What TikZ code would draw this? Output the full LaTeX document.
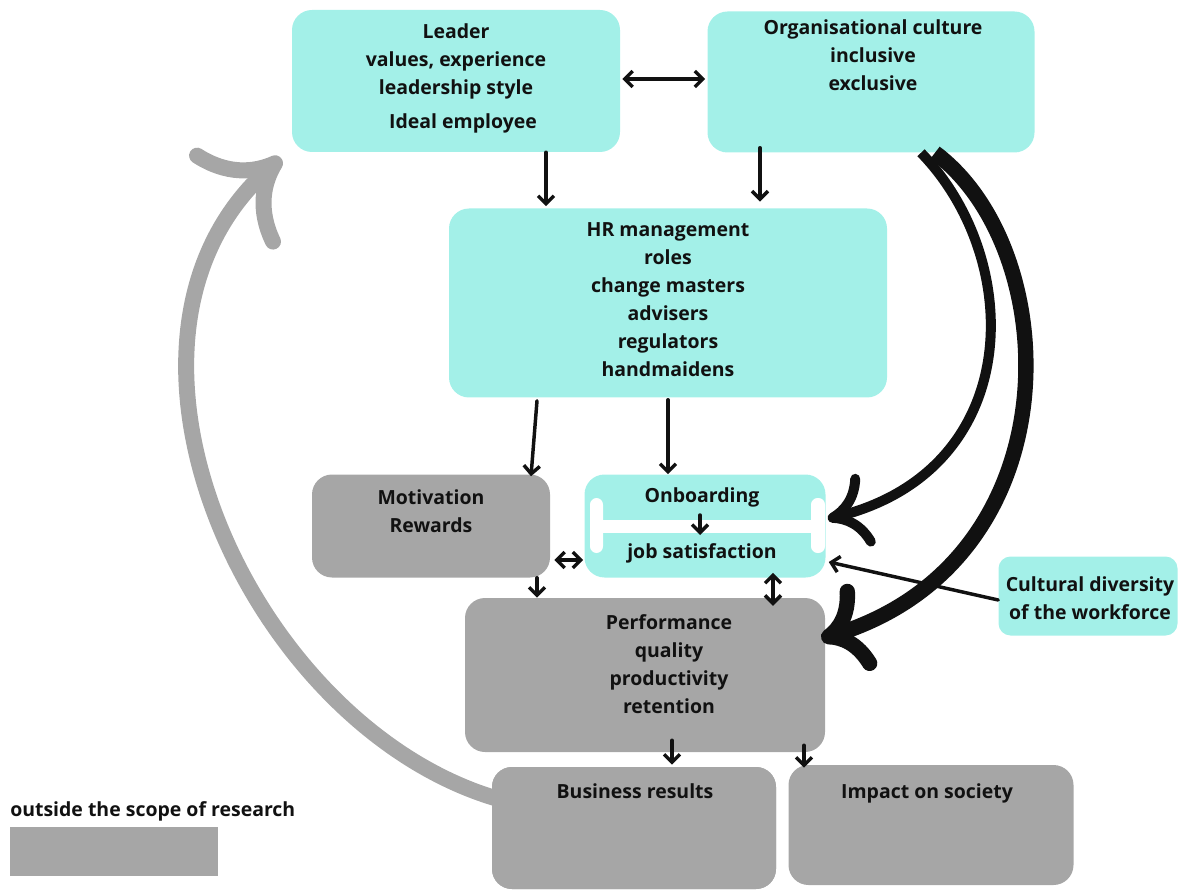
\documentclass[tikz,border=0pt]{standalone}
\usepackage{fontspec}
\setmainfont{Open Sans}
\usetikzlibrary{arrows.meta,calc}
\definecolor{cyanbox}{HTML}{A3F0E8}
\definecolor{greybox}{HTML}{A6A6A6}
\definecolor{ink}{HTML}{111111}
\begin{document}
\begin{tikzpicture}[x=0.75pt,y=-0.75pt,
  box/.style={rounded corners=15pt, inner sep=0pt, draw=none},
  cbox/.style={box, fill=cyanbox},
  gbox/.style={box, fill=greybox},
  txt/.style={font=\bfseries\fontsize{14.6}{21}\selectfont, align=center, text=ink, inner sep=0pt},
  arr/.style={draw=ink, -{Straight Barb[length=6pt,width=12pt]}, line width=2.6pt, line cap=round, line join=round},
  darr/.style={draw=ink, {Straight Barb[length=6pt,width=12pt]}-{Straight Barb[length=6pt,width=12pt]}, line width=2.6pt, line cap=round, line join=round},
  bigarr/.style={draw=ink, line width=#1}
]
\useasboundingbox (0,0) rectangle (1186,891);

% boxes
\node[gbox, minimum width=213pt, minimum height=91.5pt] (bus) at (634,828) {};
\node[gbox, minimum width=213.75pt, minimum height=90pt] (imp) at (931,825) {};

% grey feedback arrow
\draw[greybox, line width=12pt, -{Computer Modern Rightarrow[length=52pt,width=98pt]}]
  ($(bus.west)+(10,-28)$) .. controls (250,730) and (75,340) .. (281,158) coordinate (gtip);
\node[gbox, minimum width=213pt, minimum height=91.5pt] at (bus) {};

\node[cbox, minimum width=246pt, minimum height=106.5pt] (leader) at (456,81) {};
\node[cbox, minimum width=245.25pt, minimum height=105.75pt] (org) at (871,82) {};
\node[cbox, minimum width=328.5pt, minimum height=141.75pt] (hr) at (668,303) {};
\node[gbox, minimum width=178.5pt, minimum height=77.25pt] (mot) at (431,526) {};
\node[cbox, minimum width=180.75pt, minimum height=77.25pt] (onb) at (705,526) {};
\node[gbox, minimum width=270pt, minimum height=115.5pt] (perf) at (645,675) {};
\node[cbox, rounded corners=9pt, minimum width=134.25pt, minimum height=59.25pt] (cult) at (1088,596) {};
\node[fill=greybox, inner sep=0pt, minimum width=156pt, minimum height=36.75pt] (legbox) at (114,851.5) {};

% white separator in onboarding box
\fill[white] (603,520) rectangle (815,533);
\fill[white, rounded corners=5pt] (590,498) rectangle (603,553);
\fill[white, rounded corners=5pt] (811,498) rectangle (825,553);

% texts
\node[txt] (tleader) at (456,61) {Leader\\values, experience\\leadership style};
\node[txt] (tideal) at (463,123) {Ideal employee};
\node[txt] (torg) at (873,55) {Organisational culture\\inclusive\\exclusive};
\node[txt] (thr) at (668,300) {HR management\\roles\\change masters\\advisers\\regulators\\handmaidens};
\node[txt] (tmot) at (431,511) {Motivation\\Rewards};
\node[txt] (tonb) at (702,497) {Onboarding};
\node[txt] (tjob) at (702,553) {job satisfaction};
\node[txt] (tperf) at (669,664) {Performance\\quality\\productivity\\retention};
\node[txt] (tbus) at (635,791) {Business results};
\node[txt] (timp) at (927,793) {Impact on society};
\node[txt] (tcult) at (1090,598) {Cultural diversity\\of the workforce};
\node[txt, anchor=west] (tleg) at (10,811) {outside the scope of research};

% small arrows
\draw[darr] ($(leader.east)+(2,-2)$) -- ($(leader.east -| org.west)+(-2,-2)$);
\coordinate (a1) at ($(leader.south)+(90,0)$);
\draw[arr, shorten >=1.5pt] (a1) -- (a1 |- hr.north);
\coordinate (a2) at ($(org.south)+(-111,-5)$);
\draw[arr, shorten >=5pt] (a2) -- (a2 |- hr.north);
\draw[arr] ($(hr.south)+(-131,3)$) -- ($(mot.north)+(100,2)$);
\coordinate (a4) at ($(hr.south)+(0,2)$);
\draw[arr] (a4) -- (a4 |- onb.north);
\draw[arr] ($(onb.center)+(-5,-11)$) -- ($(onb.center)+(-5,9)$);
\draw[darr] ($(mot.east)+(4,34)$) -- ($(onb.west)+(-1,34)$);
\coordinate (a5) at ($(mot.south)+(106,0)$);
\draw[arr] (a5) -- (a5 |- perf.north);
\draw[darr] ($(onb.south)+(68,-5)$) -- ($(onb.south)+(68,28)$);
\draw[arr] ($(perf.south)+(27,-12)$) -- ($(bus.north)+(38,-2)$);
\draw[arr] ($(perf.south)+(159,-7)$) -- ($(imp.north)+(-127,3)$);
\draw[arr] ($(cult.west)+(0,4)$) -- ($(onb.east)+(3,36)$);

% big black curved arrows
\draw[bigarr=7.5pt, -{Computer Modern Rightarrow[length=31pt,width=56pt]}]
  ($(org.south)+(50,0)$) .. controls (1025,260) and (1025,470) .. ($(onb.east)+(2,-7)$);
\draw[bigarr=11.5pt, -{Computer Modern Rightarrow[length=35pt,width=68pt]}]
  ($(org.south)+(64,0)$) .. controls (1065,250) and (1075,560) .. ($(perf.east)+(-4,-36)$);
\end{tikzpicture}
\end{document}
